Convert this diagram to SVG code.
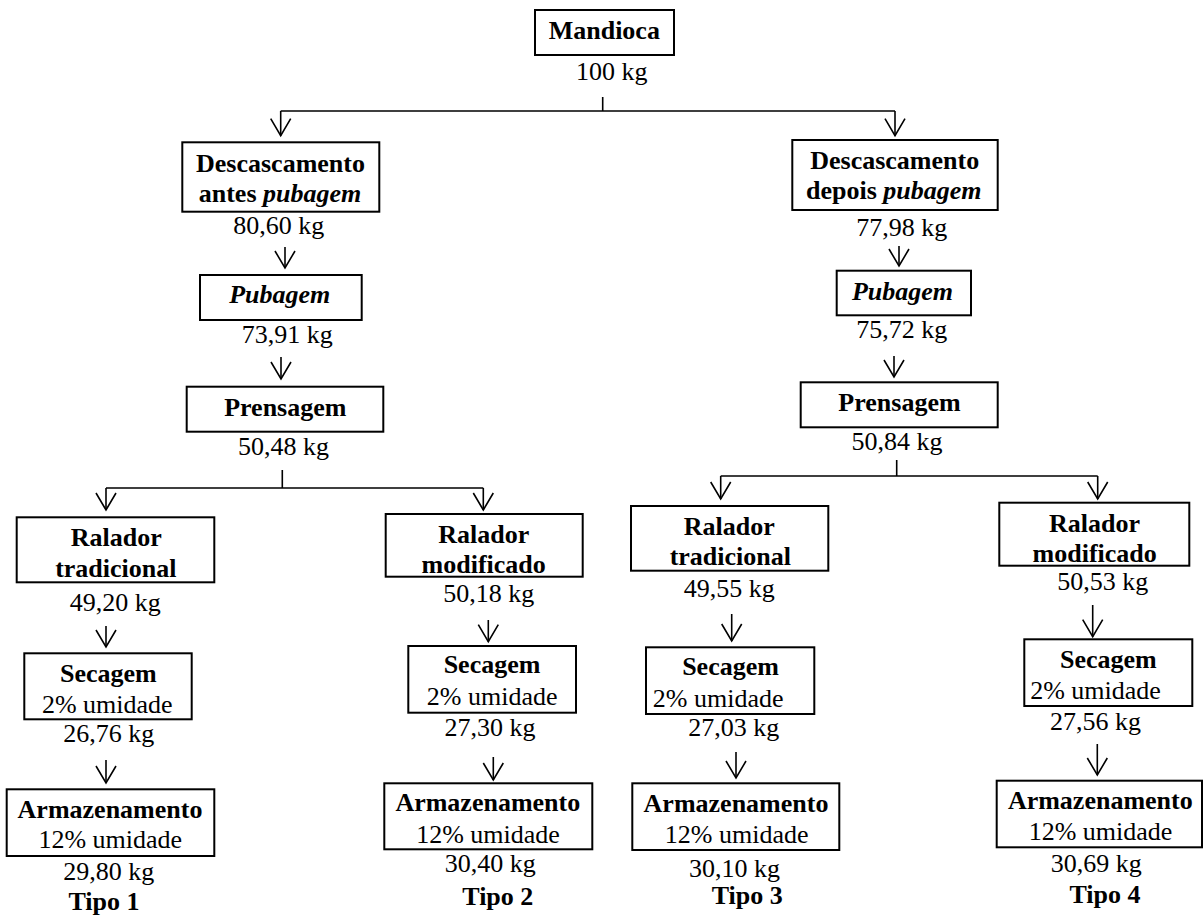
<svg xmlns="http://www.w3.org/2000/svg" width="1203" height="915" viewBox="0 0 1203 915">
<style>
text{font-family:"Liberation Serif","Times New Roman",serif;font-size:26px;fill:#000;text-anchor:middle}
.b{font-weight:bold}
.i{font-style:italic}
.box{fill:#fff;stroke:#000;stroke-width:2}
.ln{fill:none;stroke:#000;stroke-width:1.6}
.ar{fill:none;stroke:#000;stroke-width:1.6;marker-end:url(#v)}
</style>
<defs>
<marker id="v" markerUnits="userSpaceOnUse" orient="auto" refX="0" refY="0" markerWidth="20" markerHeight="22" overflow="visible">
<path d="M-17,-10 L0,0 L-17,10" fill="none" stroke="#000" stroke-width="1.6"/>
</marker>
</defs>
<rect x="0" y="0" width="1203" height="915" fill="#fff"/>

<g id="connectors">
<path class="ln" d="M602.7,97 V111 M280.7,111 H895"/>
<path class="ar" d="M280.7,111 V135.7"/>
<path class="ar" d="M895,111 V135.7"/>
<path class="ar" d="M285,247 V268"/>
<path class="ar" d="M281,357 V379"/>
<path class="ar" d="M899,246 V266"/>
<path class="ar" d="M894,356 V377"/>
<path class="ln" d="M282.3,470 V488 M106,488 H483.3"/>
<path class="ar" d="M106,488 V510"/>
<path class="ar" d="M483.3,488 V510"/>
<path class="ln" d="M896.7,460 V476 M720.7,476 H1097.7"/>
<path class="ar" d="M720.7,476 V499"/>
<path class="ar" d="M1097.7,476 V499"/>
<path class="ar" d="M106,626 V647"/>
<path class="ar" d="M106,760 V783"/>
<path class="ar" d="M488.3,620 V641.7"/>
<path class="ar" d="M493.3,757 V780"/>
<path class="ar" d="M731.7,614 V641"/>
<path class="ar" d="M736,752 V778"/>
<path class="ar" d="M1092.7,605 V636.7"/>
<path class="ar" d="M1097.3,744 V775"/>
</g>

<g id="mandioca">
<rect class="box" x="535" y="10" width="139" height="45"/>
<text class="b" x="604.3" y="39">Mandioca</text>
<text x="611.7" y="80">100 kg</text>
</g>

<g id="descasc-antes">
<rect class="box" x="182.3" y="142.3" width="197" height="69.4"/>
<text class="b" x="280.5" y="171.7">Descascamento</text>
<text class="b" x="280" y="201.7">antes <tspan class="i">pubagem</tspan></text>
<text x="278.8" y="234">80,60 kg</text>
</g>

<g id="pubagem-1">
<rect class="box" x="200" y="275" width="161.7" height="45"/>
<text class="b i" x="279.7" y="303">Pubagem</text>
<text x="287.3" y="343">73,91 kg</text>
</g>

<g id="prensagem-1">
<rect class="box" x="186.7" y="386.7" width="196.6" height="45"/>
<text class="b" x="285.3" y="416">Prensagem</text>
<text x="283.5" y="455">50,48 kg</text>
</g>

<g id="descasc-depois">
<rect class="box" x="792.3" y="140" width="205.4" height="70"/>
<text class="b" x="894.7" y="169.3">Descascamento</text>
<text class="b" x="893.8" y="199.3">depois <tspan class="i">pubagem</tspan></text>
<text x="901.7" y="236">77,98 kg</text>
</g>

<g id="pubagem-2">
<rect class="box" x="836.7" y="270.7" width="134.3" height="44.6"/>
<text class="b i" x="902.5" y="300">Pubagem</text>
<text x="901.7" y="338">75,72 kg</text>
</g>

<g id="prensagem-2">
<rect class="box" x="800.7" y="382.3" width="197" height="45"/>
<text class="b" x="899.5" y="411">Prensagem</text>
<text x="897" y="450">50,84 kg</text>
</g>

<g id="ralador-trad-1">
<rect class="box" x="16.7" y="517.3" width="197.6" height="65"/>
<text class="b" x="116.3" y="546">Ralador</text>
<text class="b" x="115.8" y="576.7">tradicional</text>
<text x="115.3" y="610.7">49,20 kg</text>
</g>

<g id="secagem-1">
<rect class="box" x="24.3" y="653.3" width="167.4" height="66"/>
<text class="b" x="108.3" y="681.7">Secagem</text>
<text x="107.3" y="712.7">2% umidade</text>
<text x="108.7" y="741.7">26,76 kg</text>
</g>

<g id="armaz-1">
<rect class="box" x="6.7" y="789.3" width="207.6" height="66.7"/>
<text class="b" x="110" y="817.7">Armazenamento</text>
<text x="110.3" y="848.3">12% umidade</text>
<text x="108.7" y="880">29,80 kg</text>
<text class="b" x="104" y="910">Tipo 1</text>
</g>

<g id="ralador-mod-2">
<rect class="box" x="385.7" y="514" width="197" height="62.7"/>
<text class="b" x="483.7" y="543.3">Ralador</text>
<text class="b" x="483.7" y="573.3">modificado</text>
<text x="488.8" y="601.7">50,18 kg</text>
</g>

<g id="secagem-2">
<rect class="box" x="408.3" y="646" width="167.7" height="66.7"/>
<text class="b" x="492" y="673.3">Secagem</text>
<text x="492.2" y="705">2% umidade</text>
<text x="490" y="735.7">27,30 kg</text>
</g>

<g id="armaz-2">
<rect class="box" x="384.3" y="783.3" width="208" height="66"/>
<text class="b" x="487.8" y="811">Armazenamento</text>
<text x="488" y="843.3">12% umidade</text>
<text x="490.3" y="871.7">30,40 kg</text>
<text class="b" x="497.8" y="905">Tipo 2</text>
</g>

<g id="ralador-trad-3">
<rect class="box" x="631" y="506" width="197.3" height="64.7"/>
<text class="b" x="729.2" y="535">Ralador</text>
<text class="b" x="730.3" y="565">tradicional</text>
<text x="729.3" y="596.7">49,55 kg</text>
</g>

<g id="secagem-3">
<rect class="box" x="646" y="647.3" width="168.3" height="66.7"/>
<text class="b" x="730.5" y="675">Secagem</text>
<text x="718.2" y="706.7">2% umidade</text>
<text x="733.7" y="736">27,03 kg</text>
</g>

<g id="armaz-3">
<rect class="box" x="632.3" y="783.3" width="207" height="66.7"/>
<text class="b" x="736" y="811.7">Armazenamento</text>
<text x="736.7" y="842.7">12% umidade</text>
<text x="734.5" y="876.7">30,10 kg</text>
<text class="b" x="747.2" y="904">Tipo 3</text>
</g>

<g id="ralador-mod-4">
<rect class="box" x="999.3" y="502.7" width="190" height="63"/>
<text class="b" x="1094.5" y="531.7">Ralador</text>
<text class="b" x="1094.7" y="562.3">modificado</text>
<text x="1102.7" y="590">50,53 kg</text>
</g>

<g id="secagem-4">
<rect class="box" x="1024.3" y="639.3" width="168" height="66.7"/>
<text class="b" x="1108.3" y="668.3">Secagem</text>
<text x="1095.5" y="699.3">2% umidade</text>
<text x="1095.5" y="730">27,56 kg</text>
</g>

<g id="armaz-4">
<rect class="box" x="996.7" y="780.7" width="205.3" height="66.6"/>
<text class="b" x="1100.3" y="809.3">Armazenamento</text>
<text x="1100.5" y="840">12% umidade</text>
<text x="1096.3" y="872.3">30,69 kg</text>
<text class="b" x="1105" y="903.3">Tipo 4</text>
</g>
</svg>
